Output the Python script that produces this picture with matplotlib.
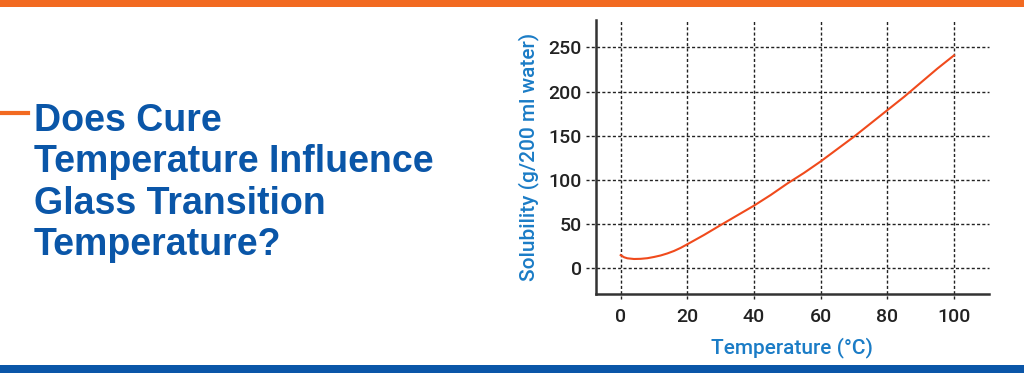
import matplotlib.pyplot as plt

# solubility curve
temps = [0, 1, 2, 4, 6, 8, 10, 12, 14, 16, 18, 20, 25, 30, 35, 40, 45, 50, 55, 60,
         65, 70, 75, 80, 85, 90, 95, 100]
solubility = [15, 12.6, 11.4, 10.6, 10.8, 11.5, 12.9, 14.6, 16.9, 19.7, 23.2, 27.3,
              37.8, 49, 60, 71, 83, 96, 108, 121, 135, 149, 164, 179, 194, 210, 226, 241]
x_ticks = [0, 20, 40, 60, 80, 100]
y_ticks = [0, 50, 100, 150, 200, 250]

title_lines = ['Does Cure', 'Temperature Influence', 'Glass Transition', 'Temperature?']

orange = '#f26a21'
dark_blue = '#0a56a8'
label_blue = '#1b7cc6'

fig = plt.figure(figsize=(10.24, 3.73), dpi=100)
fig.patch.set_facecolor('white')

# top and bottom bands
fig.add_artist(plt.Rectangle((0, 1 - 7 / 373), 1, 7 / 373, transform=fig.transFigure,
                             color=orange, lw=0))
fig.add_artist(plt.Rectangle((0, 0), 1, 8 / 373, transform=fig.transFigure,
                             color=dark_blue, lw=0))

# title on the left
fig.add_artist(plt.Line2D([0, 28 / 1024], [1 - 113 / 373, 1 - 113 / 373],
                          transform=fig.transFigure, color=orange, lw=3))
fig.text(34 / 1024, 1 - 103 / 373, '\n'.join(title_lines), ha='left', va='top',
         fontsize=27, fontweight='bold', color=dark_blue,
         family='Liberation Sans', linespacing=1.19)

ax = fig.add_axes([595.7 / 1024, 1 - 294 / 373, 393.3 / 1024, 274 / 373])
ax.set_xlim(-7.5, 110.5)
ax.set_ylim(-29, 281)

for x in x_ticks:
    ax.axvline(x, ymin=-5 / 274, ymax=1, clip_on=False, color='#222222',
               lw=1.0, ls=(0, (2.2, 1.6)), zorder=1)
for y in y_ticks:
    ax.axhline(y, xmin=-10 / 393, xmax=1, clip_on=False, color='#222222',
               lw=1.0, ls=(0, (2.2, 1.6)), zorder=1)

ax.plot(temps, solubility, color='#f04a1c', lw=1.5, zorder=3)

for side in ['top', 'right']:
    ax.spines[side].set_visible(False)
for side in ['left', 'bottom']:
    ax.spines[side].set_color('#333333')
    ax.spines[side].set_linewidth(1.8)

ax.set_xticks(x_ticks)
ax.set_yticks(y_ticks)
ax.tick_params(length=0, labelsize=14, labelcolor='#222222')
ax.tick_params(axis='x', pad=10)
ax.tick_params(axis='y', pad=10)
for lab in ax.get_xticklabels() + ax.get_yticklabels():
    lab.set_family('Roboto')
    lab.set_fontweight('medium')

ax.set_xlabel('Temperature (°C)', fontsize=15, color=label_blue, family='Roboto',
              fontweight='medium', labelpad=8)
ax.set_ylabel('Solubility (g/200 ml water)', fontsize=15, color=label_blue,
              family='Roboto', fontweight='medium', labelpad=7)

fig.savefig('out.png', dpi=100, facecolor='white')
